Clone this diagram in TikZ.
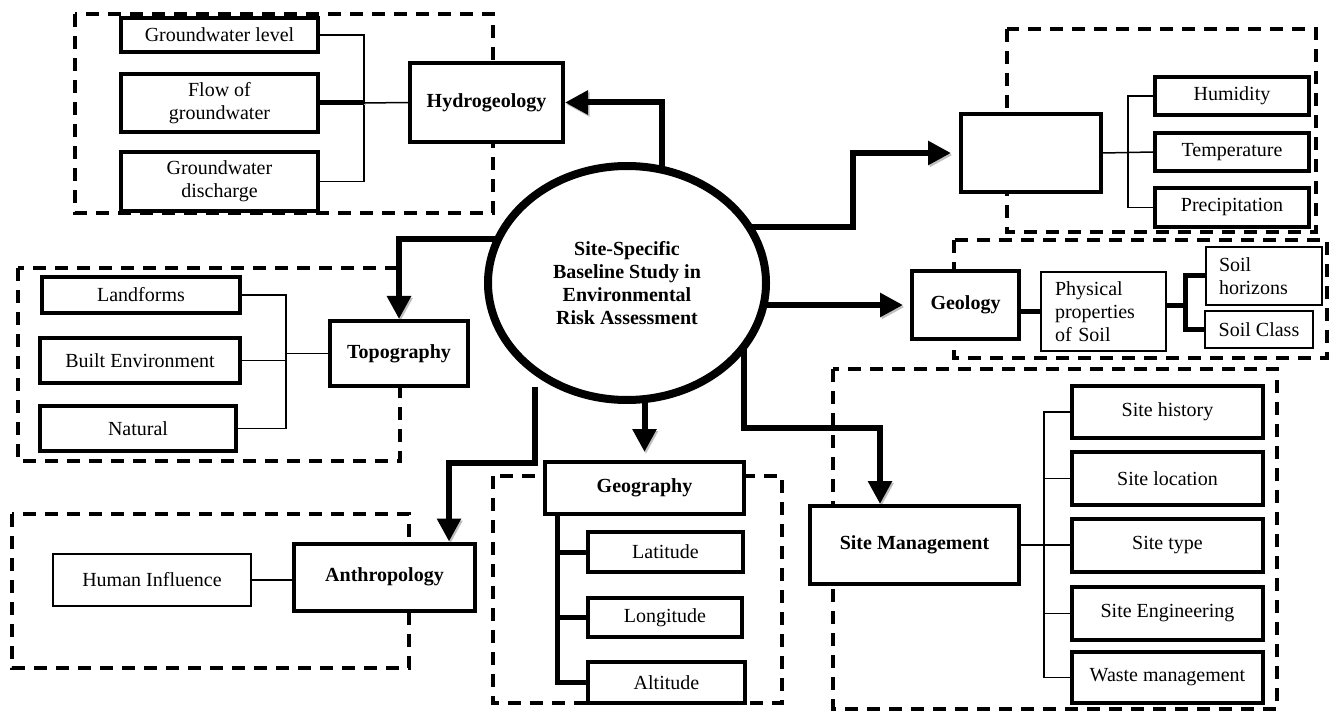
\documentclass[tikz,border=0pt]{standalone}
\usepackage{fontspec}
\setmainfont{Liberation Serif}
\usetikzlibrary{arrows.meta,shapes.geometric,calc,backgrounds}
\begin{document}
\begin{tikzpicture}[x=1pt,y=-1pt,
  every node/.style={font=\fontsize{20}{23}\selectfont},
  box/.style={draw, line width=4, fill=white, inner sep=0, align=center},
  thinbox/.style={draw, line width=2.2, fill=white, inner sep=0, align=center},
  hd/.style={font=\fontsize{20}{23}\selectfont\bfseries},
  panel/.style={draw, line width=3.3, dash pattern=on 13pt off 9pt},
  conn/.style={line width=1.5},
  thickln/.style={line width=5, preaction={draw=gray!50, transform canvas={shift={(1.5pt,-1.5pt)}}}},
  bigarrow/.style={line width=6, -{Triangle[length=23pt,width=23pt]}, preaction={draw=gray!50, transform canvas={shift={(1.5pt,-2pt)}}}},
]
\useasboundingbox (0,0) rectangle (1333,711);

% Hydrogeology
\node[box,minimum width=197pt,minimum height=34pt] (gwl) at (219.5,35) {Groundwater level};
\node[box,minimum width=197pt,minimum height=58pt] (flow) at (219.5,103) {Flow of\\groundwater};
\node[box,minimum width=197pt,minimum height=59pt] (disch) at (219.5,181.5) {Groundwater\\discharge};
\node[box,hd,minimum width=153pt,minimum height=79pt] (hydro) at (486.5,102.5) {Hydrogeology};

% Climate
\node[box,minimum width=140pt,minimum height=78pt] (clim) at (1031,153) {};
\node[box,minimum width=154pt,minimum height=38pt] (hum) at (1232,96) {Humidity};
\node[box,minimum width=154pt,minimum height=38pt] (temp) at (1232,152) {Temperature};
\node[box,minimum width=154pt,minimum height=39pt] (prec) at (1232,207.5) {Precipitation};

% Geology
\node[box,hd,minimum width=107pt,minimum height=68pt] (geo) at (965.5,305) {Geology};
\node[thinbox,minimum width=125pt,minimum height=79pt,text width=97pt,align=left] (phys) at (1103.5,311.5) {Physical\\properties\\of Soil};
\node[thinbox,minimum width=116pt,minimum height=58pt,text width=90pt,align=left] (hor) at (1264,276) {Soil\\horizons};
\node[thinbox,minimum width=108pt,minimum height=37pt] (cls) at (1259,329.5) {Soil Class};

% Topography
\node[box,minimum width=198pt,minimum height=36pt] (land) at (141,295) {Landforms};
\node[box,minimum width=200pt,minimum height=45pt] (built) at (140,360.5) {Built Environment};
\node[box,minimum width=196pt,minimum height=45pt] (nat) at (138,428.5) {Natural};
\node[box,hd,minimum width=138pt,minimum height=65pt] (topo) at (399,353.5) {Topography};

% Anthropology
\node[thinbox,minimum width=198pt,minimum height=52pt] (human) at (152,580) {Human Influence};
\node[box,hd,minimum width=181pt,minimum height=67pt] (anth) at (384.5,577) {Anthropology};

% Geography
\node[box,hd,minimum width=199pt,minimum height=52pt] (geog) at (644.5,488) {Geography};
\node[box,line width=3.5,minimum width=155pt,minimum height=40pt] (lat) at (665.5,552) {Latitude};
\node[box,line width=3.5,minimum width=154pt,minimum height=39pt] (lon) at (665,617.5) {Longitude};
\node[box,line width=3.5,minimum width=157pt,minimum height=41pt] (alt) at (666.5,682.5) {Altitude};

% Site management
\node[box,hd,minimum width=209pt,minimum height=78pt] (sm) at (914.5,545) {Site Management};
\node[box,minimum width=191pt,minimum height=52pt] (hist) at (1167.5,412) {Site history};
\node[box,minimum width=191pt,minimum height=53pt] (loc) at (1167.5,478.5) {Site location};
\node[box,minimum width=191pt,minimum height=53pt] (type) at (1167.5,545) {Site type};
\node[box,minimum width=191pt,minimum height=53pt] (eng) at (1167.5,613.5) {Site Engineering};
\node[box,minimum width=191pt,minimum height=51pt] (waste) at (1167.5,677.5) {Waste management};

% Centre
\node[draw, ellipse, line width=8, fill=white, minimum width=278pt, minimum height=234pt, inner sep=0, hd, align=center] (ell) at (627,283) {Site-Specific\\Baseline Study in\\Environmental\\Risk Assessment};

\begin{scope}[on background layer]
  % dashed panels
  \draw[panel] (75,14) rectangle (493,213);
  \draw[panel] (1007,29) rectangle (1316,232);
  \draw[panel] (954,240) rectangle (1327,358);
  \draw[panel] (18,268) rectangle (400,461);
  \draw[panel] (12,514) rectangle (409,668);
  \draw[panel] (493,476) rectangle (782,703);
  \draw[panel] (833,369) rectangle (1277,709);

  % hydrogeology connectors
  \coordinate (hb) at (364,103);
  \draw[conn] (gwl.east) -| (hb) |- (disch.east);
  \draw[conn] (hb) -- (hydro.west);
  \draw[thickln] (flow.east) -- (flow.east -| hb);

  % climate connectors
  \coordinate (cb) at (1128,152);
  \draw[conn] (hum.west) -| (cb) |- (prec.west);
  \draw[conn] (clim.east) -- (temp.west);

  % geology connectors
  \coordinate (sb) at (1185,306);
  \draw[thickln] (geo.east |- phys.west) -- (phys.west);
  \draw[thickln] (phys.east |- sb) -- (sb);
  \draw[thickln] (hor.west) -| (sb) |- (cls.west);

  % topography connectors
  \coordinate (tb) at (286,353.5);
  \draw[conn] (land.east) -| (tb) |- (nat.east);
  \draw[conn] (built.east) -- (built.east -| tb);
  \draw[conn] (tb) -- (topo.west);

  % anthropology connector
  \draw[conn] (human.east) -- (human.east -| anth.west);

  % geography connectors
  \coordinate (gb) at ($(geog.south west)+(14,0)$);
  \draw[thickln] (gb) |- (alt.west);
  \draw[thickln] (lat.west) -- (lat.west -| gb);
  \draw[thickln] (lon.west) -- (lon.west -| gb);

  % site management connectors
  \coordinate (smb) at (1044,545);
  \draw[conn] (hist.west) -| (smb) |- (waste.west);
  \draw[conn] (sm.east) -- (type.west);
  \draw[conn] (loc.west) -- (loc.west -| smb);
  \draw[conn] (eng.west) -- (eng.west -| smb);

  % main arrows
  \draw[bigarrow] ($(ell.center)+(35,0)$) |- (hydro.east);
  \draw[bigarrow] ($(ell.center)+(0,-56)$) -- ++(226,0) |- ($(clim.west)+(-8,0)$);
  \draw[bigarrow] (ell.center |- geo.west) -- ($(geo.west)+(-7,0)$);
  \draw[bigarrow] ($(ell.center)+(0,-44)$) -| (topo.north);
  \draw[bigarrow] ($(ell.center)+(-92,104)$) -- ++(0,76) -| ($(anth.north east)+(-28,0)$);
  \draw[bigarrow] (ell.center -| geog.north) -- ($(geog.north)+(0,-8)$);
  \draw[bigarrow] ($(ell.center)+(117,0)$) -- ++(0,145) -| ($(sm.north)+(-34.5,0)$);
\end{scope}
\end{tikzpicture}
\end{document}
